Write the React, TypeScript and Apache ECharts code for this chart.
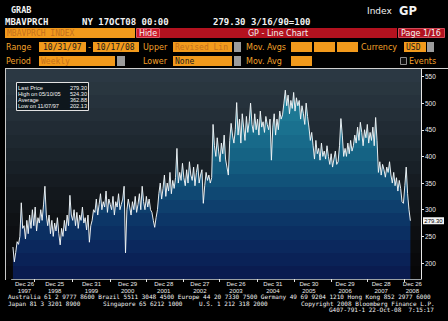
import React, { useEffect, useRef } from "react";
import * as echarts from "echarts";

// ---- data ----
const seriesStart = "1997-10-31";
const seriesEnd = "2008-10-17";
// MBA purchase index, sampled every second week
const purchaseIndex: number[] = [
  230, 202.13, 220, 240, 235, 250, 313, 265, 270, 245, 280, 255, 290, 265, 300, 270, 305, 260, 285, 275, 300, 280, 309, 344, 290,
  270, 290, 255, 280, 250, 275, 260, 285, 255, 234, 265, 250, 280, 260, 290, 270, 327, 290,
  280, 300, 270, 295, 265, 290, 280, 305, 275, 285, 262, 290, 239, 270,
  280, 300, 295, 320, 290, 310, 330, 300, 315, 305, 335, 295, 320, 310, 300, 325, 290, 315, 305, 330, 300, 310, 320, 344,
  219, 300, 320, 305, 290, 315, 300, 325, 295, 310, 330, 300, 344, 315, 300, 325, 305,
  320, 300, 295, 280, 267, 285, 300, 330, 350, 320, 340, 365, 325, 350, 335, 370, 330, 355, 340, 360, 415, 350,
  370, 355, 387, 360, 345, 375, 350, 390, 365, 355, 380, 345, 370, 385, 350, 365, 375, 312, 345, 370, 355, 365, 350, 360,
  460, 420, 400, 435, 410, 390, 425, 405, 440, 395, 380, 365, 430, 462, 440, 425, 450, 501,
  440, 470, 425, 480, 455, 430, 475, 445, 465, 500, 460, 445, 480, 450, 470, 440, 485, 455, 465, 445, 475, 460, 450, 470, 393, 455, 480, 440, 470, 450, 485, 470,
  478, 500, 524.3, 495, 515, 480, 505, 490, 520, 485, 510, 495, 505, 470, 495, 480, 460, 500, 475, 455, 430, 445,
  420, 395, 430, 405, 415, 393, 425, 400, 410, 395, 420, 400, 385, 405, 380, 395, 410, 385, 390, 420, 471, 440, 400,
  415, 400, 425, 405, 430, 410, 420, 440, 425, 455, 430, 464, 445, 420, 450, 435, 460, 425, 445, 430, 455, 420, 473, 430,
  370, 390, 365, 385, 375, 361, 380, 370, 390, 365, 350, 370, 345, 360, 335, 355, 340, 315, 312, 345, 380, 330, 300, 279.3,
];
const yTicks = [200, 250, 300, 350, 400, 450, 500, 550];
const xLabelDates = [
  "1997-12-26", "1998-12-25", "1999-12-31", "2000-12-29", "2001-12-28", "2002-12-27",
  "2003-12-26", "2004-12-31", "2005-12-30", "2006-12-29", "2007-12-28", "2008-12-26",
];
const xTickDates = [
  "1998-06-05", "1999-06-25", "2000-07-07", "2001-07-10", "2002-07-13", "2003-07-15",
  "2004-08-01", "2005-07-30", "2006-08-08", "2007-08-12", "2008-08-14",
];
const statLabels = ["Last Price", "High on 05/10/05", "Average", "Low on 11/07/97"];
const statValues = ["279.30", "524.30", "362.88", "202.13"];
const axisMinDate = "1997-10-17";
const axisMaxDate = "2009-02-01";

const MONTHS = ["Jan", "Feb", "Mar", "Apr", "May", "Jun", "Jul", "Aug", "Sep", "Oct", "Nov", "Dec"];
function utc(s: string) {
  const [y, m, d] = s.split("-").map(Number);
  return Date.UTC(y, m - 1, d);
}
function bands(colors: string[]) {
  const n = colors.length;
  const stops: { offset: number; color: string }[] = [];
  colors.forEach((c, k) => {
    stops.push({ offset: k / n, color: c });
    stops.push({ offset: (k + 1) / n, color: c });
  });
  return stops;
}

const MONO = "DejaVu Sans Mono";
const SANS = "DejaVu Sans";
const LIB = "Liberation Sans";
const ORANGE = "#f29a1c";
const ORANGE_TXT = "#f2a02a";
const DIM = "#c4701c";
const RED = "#b3121f";

function txt(x: number, y: number, text: string, o: any = {}) {
  return {
    type: "text",
    x,
    y,
    z: 30,
    style: {
      text,
      fill: o.fill || "#f2f2f2",
      fontSize: o.size || 8,
      fontFamily: o.font || SANS,
      fontWeight: o.bold ? "bold" : "normal",
      align: o.align || "left",
      verticalAlign: "middle",
      ...(o.width ? { width: o.width, overflow: "truncate", ellipsis: "" } : {}),
    },
  };
}
function box(x: number, y: number, w: number, h: number, fill: string, stroke?: string, z = 25) {
  return {
    type: "rect",
    z,
    shape: { x, y, width: w, height: h },
    style: { fill, stroke: stroke || "none", lineWidth: 1 },
  };
}

export default function App() {
  const ref = useRef<HTMLDivElement>(null);
  useEffect(() => {
    document.body.style.margin = "0";
    document.body.style.background = "#000";
    const chart = echarts.init(ref.current!, undefined, { renderer: "svg" });
    const t0 = utc(seriesStart);
    const t1 = utc(seriesEnd);
    const step = (t1 - t0) / (purchaseIndex.length - 1);
    const data = purchaseIndex.map((v, i) => [t0 + i * step, v]);
    const labelTimes = xLabelDates.map(utc);

    const bgBands = bands([
      "#2b3843", "#29363f", "#26323c", "#242f38", "#212b34", "#1e2830", "#1b242b", "#182027",
      "#161c22", "#13181d", "#111519", "#0f1215", "#0d0f12", "#0b0c0e", "#09090b", "#070708",
    ]);
    const fillBands = bands([
      "#248ba6", "#2285a0", "#1f7e9a", "#1d7894", "#1a718f", "#186a8a", "#156384", "#135b7f",
      "#115279", "#0f4873", "#0e3f6d", "#0c3667", "#0b2f62", "#0b285d", "#0a2257", "#0a1c50",
    ]);

    const richBase = { fontSize: 6, lineHeight: 6.5, color: "#ececec", fontFamily: LIB };

    const option: any = {
      animation: false,
      backgroundColor: "#000",
      grid: { left: 6, top: 69, width: 415, height: 210, containLabel: false },
      xAxis: {
        type: "value",
        min: utc(axisMinDate),
        max: utc(axisMaxDate),
        z: 5,
        axisLine: { show: true, lineStyle: { color: "#9aa0a4", width: 1 } },
        axisTick: {
          show: true,
          customValues: xTickDates.map(utc),
          length: 3,
          lineStyle: { color: "#e6e6e6" },
        },
        axisLabel: {
          show: true,
          customValues: labelTimes,
          margin: 2,
          formatter: (value: number) => {
            let idx = 0;
            let best = Infinity;
            labelTimes.forEach((t, i) => {
              const d = Math.abs(t - value);
              if (d < best) { best = d; idx = i; }
            });
            const [y, m, d] = xLabelDates[idx].split("-").map(Number);
            const k = idx === 0 ? "f" : idx === labelTimes.length - 1 ? "l" : "n";
            return `{${k}|${MONTHS[m - 1]} ${d}}\n{${k}|${y}}`;
          },
          rich: {
            n: { ...richBase },
            f: { ...richBase, padding: [0, 0, 0, 12] },
            l: { ...richBase, padding: [0, 10, 0, 0] },
          },
        },
        splitLine: { show: false },
      },
      yAxis: {
        type: "value",
        position: "right",
        min: 170,
        max: 564,
        z: 5,
        axisLine: { show: true, lineStyle: { color: "#e8e8e8", width: 1 } },
        axisTick: { show: true, customValues: yTicks, length: 3, lineStyle: { color: "#e8e8e8" } },
        axisLabel: {
          show: true,
          customValues: yTicks,
          color: "#ececec",
          fontSize: 6.5,
          fontFamily: LIB,
          margin: 4,
        },
        splitLine: { show: false },
      },
      series: [
        {
          type: "line",
          data,
          symbol: "none",
          z: 2,
          lineStyle: { color: "rgba(240,245,248,0.95)", width: 1 },
          areaStyle: {
            origin: "start",
            opacity: 1,
            color: { type: "linear", x: 0, y: 69, x2: 0, y2: 279, global: true, colorStops: fillBands },
          },
        },
      ],
    };
    chart.setOption(option);

    const lastPrice = purchaseIndex[purchaseIndex.length - 1];
    const py = chart.convertToPixel({ yAxisIndex: 0 }, lastPrice) as number;

    const els: any[] = [
      {
        type: "rect",
        z: 0,
        shape: { x: 6, y: 69, width: 415, height: 210 },
        style: { fill: { type: "linear", x: 0, y: 0, x2: 0, y2: 1, colorStops: bgBands } },
      },
      { type: "line", z: 6, shape: { x1: 5, y1: 68.5, x2: 448, y2: 68.5 }, style: { stroke: "#d0d0d0", lineWidth: 1 } },
      { type: "line", z: 6, shape: { x1: 5.5, y1: 68.5, x2: 5.5, y2: 280 }, style: { stroke: "#c8c8c8", lineWidth: 1 } },
      txt(11, 10, "GRAB", { font: MONO, bold: true, size: 8.5 }),
      txt(5, 22, "MBAVPRCH", { font: MONO, bold: true, size: 9 }),
      txt(82, 22, "NY 17OCT08 00:00", { font: MONO, bold: true, size: 9 }),
      txt(213, 22, "279.30 3/16/90=100", { font: MONO, bold: true, size: 9 }),
      txt(367, 11, "Index", { size: 9 }),
      txt(399, 11, "GP", { bold: true, size: 11.5 }),
      box(5, 28, 130, 10, ORANGE),
      txt(7, 33.5, "MBAVPRCH INDEX", { font: MONO, size: 8, fill: DIM }),
      box(136.5, 28.5, 23, 9, "#cf1b2d", "#e25563"),
      txt(148, 33.5, "Hide", { align: "center", size: 8 }),
      box(160, 28, 237, 10, RED),
      txt(278, 33.5, "GP - Line Chart", { align: "center", size: 8 }),
      box(398.5, 28.5, 46, 9, RED, "#d24a58"),
      txt(421, 33.5, "Page 1/16", { align: "center", size: 8 }),
      txt(6, 47.5, "Range", { fill: ORANGE_TXT }),
      box(39, 42, 47, 10, ORANGE),
      txt(43, 47.5, "10/31/97", { font: MONO, fill: "#1a1a1a" }),
      txt(88, 47.5, "-", { fill: ORANGE_TXT }),
      box(93, 42, 46, 10, ORANGE),
      txt(96, 47.5, "10/17/08", { font: MONO, fill: "#1a1a1a" }),
      txt(143, 47.5, "Upper", { fill: ORANGE_TXT }),
      box(173, 42, 59, 10, ORANGE),
      txt(175, 47.5, "Revised Line", { font: MONO, fill: DIM, width: 56 }),
      box(234, 42, 7, 10, "#9c9c9c"),
      txt(246, 47.5, "Mov. Avgs", { fill: ORANGE_TXT }),
      box(291, 42, 21, 10, ORANGE),
      box(314, 42, 21, 10, ORANGE),
      box(337, 42, 21, 10, ORANGE),
      txt(361, 47.5, "Currency", { fill: ORANGE_TXT }),
      box(404, 42, 22, 10, ORANGE),
      txt(406, 47.5, "USD", { font: MONO, fill: "#1a1a1a" }),
      box(427, 42, 7, 10, "#9c9c9c"),
      txt(6, 61.5, "Period", { fill: ORANGE_TXT }),
      box(39, 56, 76, 10, ORANGE),
      txt(41, 61.5, "Weekly", { font: MONO, fill: DIM }),
      box(117, 56, 8, 10, "#9c9c9c"),
      txt(143, 61.5, "Lower", { fill: ORANGE_TXT }),
      box(173, 56, 59, 10, ORANGE),
      txt(175, 61.5, "None", { font: MONO, fill: "#1a1a1a" }),
      box(234, 56, 7, 10, "#9c9c9c"),
      txt(246, 61.5, "Mov. Avg", { fill: ORANGE_TXT }),
      box(291, 56, 21, 10, ORANGE),
      box(400.5, 57.5, 6, 7, "#101010", "#8c8c8c"),
      txt(409, 61.5, "Events", { fill: ORANGE_TXT }),
      box(16.5, 82.5, 72, 28, "#0e171d", "#e2e2e2", 20),
      ...statLabels.map((s, i) => txt(18, 87.5 + i * 6.2, s, { font: LIB, size: 5.6, fill: "#f4f4f4" })),
      ...statValues.map((s, i) => txt(87, 87.5 + i * 6.2, s, { font: LIB, size: 5.6, fill: "#f4f4f4", align: "right" })),
      box(423, py - 3.5, 21, 7, "#f4f4f4", undefined, 28),
      txt(433.5, py + 0.5, lastPrice.toFixed(2), { font: LIB, size: 6, fill: "#000", align: "center" }),
      txt(8, 296.5, "Australia 61 2 9777 8600 Brazil 5511 3048 4500 Europe 44 20 7330 7500 Germany 49 69 9204 1210 Hong Kong 852 2977 6000", { font: MONO, size: 6 }),
      txt(8, 303, "Japan 81 3 3201 8900", { font: MONO, size: 6 }),
      txt(103, 303, "Singapore 65 6212 1000", { font: MONO, size: 6 }),
      txt(199, 303, "U.S. 1 212 318 2000", { font: MONO, size: 6 }),
      txt(301, 303, "Copyright 2008 Bloomberg Finance L.P.", { font: MONO, size: 6 }),
      txt(329, 309.5, "G407-791-1 22-Oct-08  7:15:17", { font: MONO, size: 6 }),
    ];
    chart.setOption({ graphic: { elements: els } });

    return () => chart.dispose();
  }, []);
  return <div ref={ref} style={{ position: "absolute", left: 0, top: 0, width: 448, height: 321 }} />;
}
